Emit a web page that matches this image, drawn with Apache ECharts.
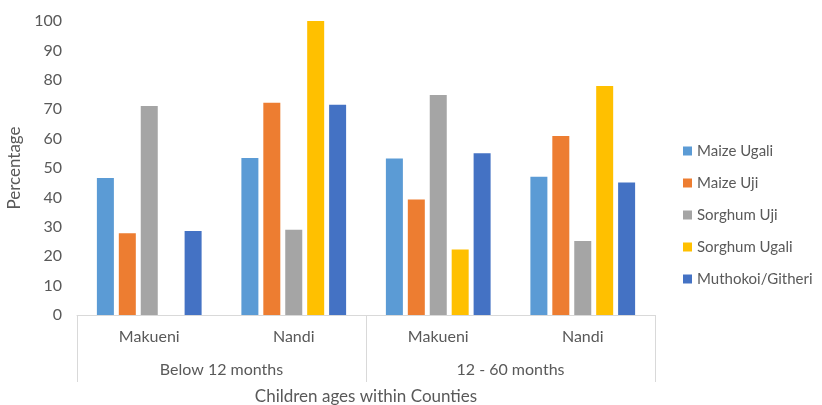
<!DOCTYPE html>
<html>
<head>
<meta charset="utf-8">
<script src="https://cdn.jsdelivr.net/npm/echarts@6/dist/echarts.min.js"></script>
<style>
  html, body { margin: 0; padding: 0; background: #fff; }
  #container { width: 822px; height: 405px; }
</style>
</head>
<body>
<div id="container"></div>
<script>
// categories: county inside age group
var counties = ['Makueni', 'Nandi', 'Makueni', 'Nandi'];
var ageGroups = ['Below 12 months', '12 - 60 months'];
var foods = ['Maize Ugali', 'Maize Uji', 'Sorghum Uji', 'Sorghum Ugali', 'Muthokoi/Githeri'];
var colors = ['#5B9BD5', '#ED7D31', '#A5A5A5', '#FFC000', '#4472C4'];

// percentages
var maizeUgali = [46.6, 53.4, 53.2, 47.0];
var maizeUji = [27.8, 72.2, 39.3, 60.9];
var sorghumUji = [71.1, 29.0, 74.8, 25.2];
var sorghumUgali = [0, 100, 22.3, 77.9];
var muthokoi = [28.6, 71.5, 55.0, 45.1];

var values = [maizeUgali, maizeUji, sorghumUji, sorghumUgali, muthokoi];

var txt = '#595959';
var font = 'Lato';

var dom = document.getElementById('container');
var myChart = echarts.init(dom);

var series = [];
foods.forEach(function (name, i) {
    series.push({
        name: name,
        type: 'bar',
        xAxisIndex: 0,
        barWidth: 17,
        barGap: '29%',
        barCategoryGap: '27%',
        itemStyle: { color: colors[i] },
        data: values[i]
    });
});

var option = {
    backgroundColor: '#fff',
    animation: false,
    textStyle: { fontFamily: font },
    legend: {
        orient: 'vertical',
        left: 683,
        top: 142,
        padding: 0,
        itemWidth: 9,
        itemHeight: 9,
        itemGap: 14,
        icon: 'rect',
        textStyle: { color: txt, fontSize: 15, fontFamily: font, lineHeight: 18 },
        data: foods
    },
    grid: { left: 77, right: 167, top: 21, bottom: 90, outerBoundsMode: 'none', containLabel: false },
    xAxis: [
        {
            type: 'category',
            data: counties,
            position: 'bottom',
            axisLine: { lineStyle: { color: '#d9d9d9', width: 1 } },
            axisTick: { show: false },
            axisLabel: { color: txt, fontSize: 16, margin: 14, fontFamily: font },
            name: 'Children ages within Counties',
            nameLocation: 'middle',
            nameGap: 73,
            nameTextStyle: { color: txt, fontSize: 17, fontFamily: font }
        },
        {
            type: 'category',
            data: ageGroups,
            position: 'bottom',
            offset: 0,
            axisLine: { show: false },
            axisTick: { show: true, length: 67, lineStyle: { color: '#d9d9d9' } },
            axisLabel: { color: txt, fontSize: 16, margin: 47, fontFamily: font },
            splitLine: { show: false }
        }
    ],
    yAxis: {
        type: 'value',
        min: 0,
        max: 100,
        interval: 10,
        splitLine: { show: false },
        axisLine: { show: false },
        axisTick: { show: false },
        axisLabel: { color: txt, fontSize: 16, margin: 15, fontFamily: font },
        name: 'Percentage',
        nameLocation: 'middle',
        nameGap: 49,
        nameTextStyle: { color: txt, fontSize: 17, fontFamily: font }
    },
    series: series
};

myChart.setOption(option);
</script>
</body>
</html>
